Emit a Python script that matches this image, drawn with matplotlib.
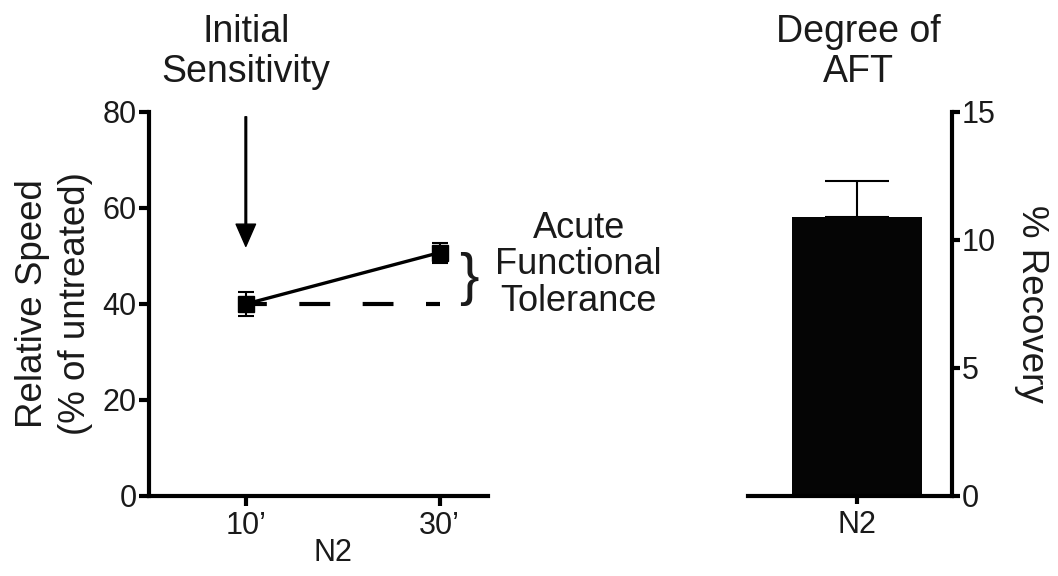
import matplotlib
matplotlib.use('Agg')
import matplotlib.pyplot as plt

plt.rcParams['font.family'] = ['Liberation Sans', 'DejaVu Sans']
plt.rcParams['text.color'] = '#1a1a1a'
plt.rcParams['axes.labelcolor'] = '#1a1a1a'
plt.rcParams['xtick.color'] = 'black'
plt.rcParams['ytick.color'] = 'black'
plt.rcParams['xtick.labelcolor'] = '#1a1a1a'
plt.rcParams['ytick.labelcolor'] = '#1a1a1a'

# time course (N2)
times = [10, 30]
time_labels = ['10\u2019', '30\u2019']
speed = [40.0, 50.7]
speed_err = [2.5, 2.1]

# degree of AFT
strains = ['N2']
recovery = [10.9]
recovery_err = [1.4]

fig = plt.figure(figsize=(10.58, 5.76), dpi=100)

# left panel: relative speed
ax = fig.add_axes([0.1408, 0.1389, 0.3204, 0.6667])
ax.plot(times, [speed[0], speed[0]], color='black', lw=3,
        linestyle=(2.4, (7.4, 7.8)), zorder=2)
ax.errorbar(times, speed, yerr=speed_err, color='black', lw=2.4,
            marker='s', markersize=11, ecolor='black', elinewidth=1.5,
            capsize=6, capthick=1.5, zorder=3)

ax.set_xlim(0, 35)
ax.set_ylim(0, 80)
ax.set_yticks([0, 20, 40, 60, 80])
ax.set_xticks(times)
ax.set_xticklabels(time_labels)
for s in ['top', 'right']:
    ax.spines[s].set_visible(False)
for s in ['left', 'bottom']:
    ax.spines[s].set_linewidth(3)
ax.tick_params(width=3, length=7, labelsize=22)
ax.tick_params(axis='y', pad=2)
ax.tick_params(axis='x', pad=4)
ax.set_ylabel('Relative Speed\n(% of untreated)', fontsize=26.5, linespacing=1.3)
ax.set_xlabel('N2', fontsize=22)
ax.xaxis.set_label_coords(0.543, -0.11)
ax.yaxis.set_label_coords(-0.165, 0.5)

# arrow to initial sensitivity point
ax.annotate('', xy=(times[0], 52), xytext=(times[0], 79),
            arrowprops=dict(facecolor='black', edgecolor='black', width=1.2,
                            headwidth=14, headlength=16, shrink=0))

# brace for acute functional tolerance
ax.text(33.0, 45.3, '}', fontsize=42, ha='center', va='center', clip_on=False)
fig.text(0.547, 0.54, 'Acute\nFunctional\nTolerance', fontsize=26,
         ha='center', va='center', linespacing=1.05)
fig.text(246 / 1058, 1 - 52 / 576, 'Initial\nSensitivity', fontsize=27,
         ha='center', va='center', linespacing=1.15)

# right panel: % recovery
ax2 = fig.add_axes([0.707, 0.1389, 0.1928, 0.6667])
ax2.bar([0], recovery, width=1.0, color='#050505', zorder=2)
ax2.errorbar([0], recovery, yerr=[[0], recovery_err], fmt='none',
             ecolor='black', elinewidth=1.5, capsize=23, capthick=1.5, zorder=1)
ax2.set_xlim(-0.84, 0.73)
ax2.set_ylim(0, 15)
ax2.set_yticks([0, 5, 10, 15])
ax2.set_xticks([0])
ax2.set_xticklabels(strains)
for s in ['top', 'left']:
    ax2.spines[s].set_visible(False)
for s in ['right', 'bottom']:
    ax2.spines[s].set_linewidth(3)
ax2.yaxis.tick_right()
ax2.yaxis.set_label_position('right')
ax2.tick_params(width=3, length=6, labelsize=22)
ax2.tick_params(axis='y', pad=1)
ax2.tick_params(axis='x', pad=4)
ax2.set_ylabel('% Recovery', fontsize=26.5, rotation=270, labelpad=38)
fig.text(858 / 1058, 1 - 52 / 576, 'Degree of\nAFT', fontsize=27,
         ha='center', va='center', linespacing=1.15)

fig.savefig('out.png', dpi=100)
